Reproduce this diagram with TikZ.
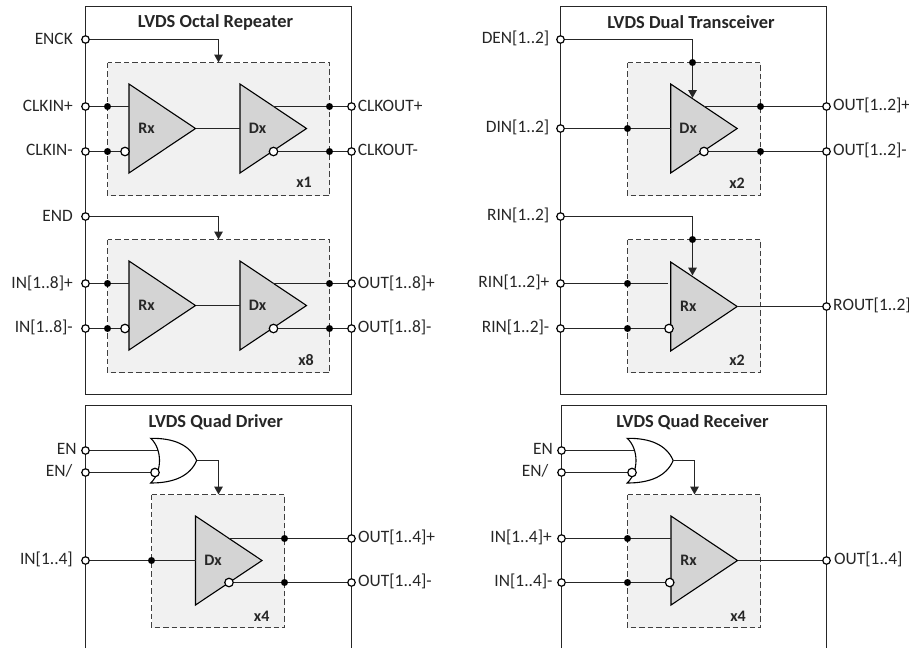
\documentclass[tikz,border=0pt]{standalone}
\usepackage{fontspec}
\setmainfont{Carlito}
\usetikzlibrary{arrows.meta}
\definecolor{boxfill}{HTML}{F1F1F1}
\definecolor{ampfill}{HTML}{D4D4D4}
\definecolor{wirecol}{HTML}{262626}
\tikzset{
  x=1pt,y=-1pt,
  every node/.style={font=\fontsize{17.4}{19}\selectfont,text=black!85},
  wire/.style={draw=wirecol,line width=1.4pt},
  arrowwire/.style={wire,-{Triangle[width=8.5pt,length=8pt]}},
  panel/.style={draw=wirecol,line width=1.4pt},
  block/.style={draw=black!75,fill=boxfill,line width=1.3pt,dash pattern=on 5.5pt off 3pt},
  amp/.style={draw=black,fill=ampfill,line width=1.1pt,line join=miter},
  pin/.style={circle,draw=black,fill=white,line width=1.2pt,inner sep=0pt,minimum size=7.5pt},
  dot/.style={circle,fill=black,inner sep=0pt,minimum size=7pt},
  bub/.style={circle,draw=black,fill=white,line width=1.2pt,inner sep=0pt,minimum size=8.5pt},
  lbl/.style={anchor=east,inner sep=0pt},
  lbr/.style={anchor=west,inner sep=0pt},
  ttl/.style={font=\fontsize{18.4}{20}\selectfont\bfseries},
  tag/.style={font=\fontsize{16}{18}\selectfont\bfseries},
  orgate/.style={draw=black,fill=white,line width=1.1pt}
}
% name, x-left, y-centre, text
\newcommand{\ampshape}[4]{%
  \path[amp] (#2,#3-44.5) coordinate (#1-a) -- (#2+66.5,#3) coordinate (#1-tip) -- (#2,#3+44.5) coordinate (#1-b) -- cycle;
  \node[font=\fontsize{16}{18}\selectfont\bfseries] (#1-t) at (#2+17.5,#3) {#4};
  \coordinate (#1-w) at (#2,#3);
  \coordinate (#1-up) at (#2,#3-22);
  \coordinate (#1-upr) at (#2+33,#3-22);
}
% name, x offset
\newcommand{\orshape}[2]{%
  \path[orgate] (#2+150.7,438.3) coordinate (#1-a) .. controls (#2+174,438) and (#2+190,445) .. (#2+196.7,460.5) coordinate (#1-tip) .. controls (#2+190,476) and (#2+174,483) .. (#2+150.7,483) coordinate (#1-b) .. controls (#2+157,477) and (#2+159.5,468) .. (#2+159.5,460.5) .. controls (#2+159.5,453) and (#2+157,444) .. (#2+150.7,438.3) -- cycle;
}
\begin{document}
\begin{tikzpicture}
\useasboundingbox (0,0) rectangle (909,648);

% ---------- panels
\draw[panel] (85.5,6.5) rectangle (351.5,394.5);
\draw[panel] (560.5,6.5) rectangle (826.5,394.5);
\draw[panel] (85.5,648) -- (85.5,405.5) -- (351.5,405.5) -- (351.5,648);
\draw[panel] (561.5,648) -- (561.5,405.5) -- (826.5,405.5) -- (826.5,648);

\node[ttl] (t1) at (215.5,22) {LVDS Octal Repeater};
\node[ttl] (t2) at (691,22) {LVDS Dual Transceiver};
\node[ttl] (t3) at (215.8,422.5) {LVDS Quad Driver};
\node[ttl] (t4) at (692.5,422.5) {LVDS Quad Receiver};

% ---------- dashed blocks
\path[block] (107.5,62.5) rectangle (329.5,195.5);
\path[block] (107.5,239.5) rectangle (329.5,372.5);
\path[block] (627.5,62.5) rectangle (760.5,195.5);
\path[block] (627.5,239.5) rectangle (760.5,372.5);
\path[block] (151.5,494.5) rectangle (284.5,627.5);
\path[block] (627.5,494.5) rectangle (760.5,627.5);

\node[tag] (x1) at (304,182.7) {x1};
\node[tag] (x8) at (306,360.5) {x8};
\node[tag] (x2a) at (737,183) {x2};
\node[tag] (x2b) at (737,360) {x2};
\node[tag] (x4a) at (261.7,616) {x4};
\node[tag] (x4b) at (738,616) {x4};

% ---------- pins and dots : octal repeater
\foreach \n/\y in {ENCK/39.5,CKP/106.5,CKM/151.5,END/216.5,INP/283.5,INM/328.5}
  \node[pin] (\n) at (85.5,\y) {};
\foreach \n/\y in {CKOP/106.5,CKOM/151.5,OTP/283.5,OTM/328.5}
  \node[pin] (\n) at (351.5,\y) {};
\foreach \n/\y in {jCKP/106.5,jCKM/151.5,jINP/283.5,jINM/328.5}
  \node[dot] (\n) at (107.5,\y) {};
\foreach \n/\y in {jCKOP/106.5,jCKOM/151.5,jOTP/283.5,jOTM/328.5}
  \node[dot] (\n) at (329.5,\y) {};

% octal repeater amplifiers
\ampshape{r1}{129}{128.5}{Rx}
\ampshape{d1}{240}{128.5}{Dx}
\ampshape{r2}{129}{305.5}{Rx}
\ampshape{d2}{240}{305.5}{Dx}
\node[bub] (br1) at (125,151.5) {};
\node[bub] (bd1) at (273.5,151.5) {};
\node[bub] (br2) at (125,328.5) {};
\node[bub] (bd2) at (273.5,328.5) {};

\coordinate (a1) at (218.5,62.5);
\coordinate (a2) at (218.5,239.5);
\draw[arrowwire] (ENCK) -| (a1);
\draw[arrowwire] (END) -| (a2);
\draw[wire] (CKP) -- (jCKP) -- (r1-up);
\draw[wire] (CKM) -- (jCKM) -- (br1);
\draw[wire] (r1-tip) -- (d1-w);
\draw[wire] (d1-upr) -- (jCKOP) -- (CKOP);
\draw[wire] (bd1) -- (jCKOM) -- (CKOM);
\draw[wire] (INP) -- (jINP) -- (r2-up);
\draw[wire] (INM) -- (jINM) -- (br2);
\draw[wire] (r2-tip) -- (d2-w);
\draw[wire] (d2-upr) -- (jOTP) -- (OTP);
\draw[wire] (bd2) -- (jOTM) -- (OTM);

\node[lbl] (l1) at (73,38.7) {ENCK};
\node[lbl] (l2) at (73,105.5) {CLKIN+};
\node[lbl] (l3) at (73,150) {CLKIN-};
\node[lbl] (l4) at (73,216) {END};
\node[lbl] (l5) at (73,283) {IN[1..8]+};
\node[lbl] (l6) at (73,327.5) {IN[1..8]-};
\node[lbr] (r1l) at (357.7,105.5) {CLKOUT+};
\node[lbr] (r2l) at (357.7,150) {CLKOUT-};
\node[lbr] (r3l) at (357.7,283) {OUT[1..8]+};
\node[lbr] (r4l) at (357.7,327.5) {OUT[1..8]-};

% ---------- dual transceiver
\foreach \n/\y in {DEN/39.5,DIN/128.5,RIN/216.5,RIP/283.5,RIM/328.5}
  \node[pin] (\n) at (560.5,\y) {};
\foreach \n/\y in {OUP/106.5,OUM/151.5,ROUT/306.5}
  \node[pin] (\n) at (826.5,\y) {};
\foreach \n/\y in {jDIN/128.5,jRIP/283.5,jRIM/328.5}
  \node[dot] (\n) at (627.5,\y) {};
\foreach \n/\y in {jOUP/106.5,jOUM/151.5}
  \node[dot] (\n) at (760.5,\y) {};
\node[dot] (jDEN) at (692.5,62.5) {};
\node[dot] (jRIN) at (692.5,239.5) {};
\ampshape{d3}{670.7}{128.5}{Dx}
\ampshape{r3}{670.7}{306.5}{Rx}
\node[bub] (bd3) at (704,151.5) {};
\node[bub] (br3) at (669,328.5) {};
\coordinate (e3) at (692.5,98);
\coordinate (e4) at (692.5,275.5);
\coordinate (s3) at (668,283.5);
\draw[wire] (DEN) -| (jDEN);
\draw[arrowwire] (jDEN) -- (e3);
\draw[wire] (RIN) -| (jRIN);
\draw[arrowwire] (jRIN) -- (e4);
\draw[wire] (DIN) -- (jDIN) -- (d3-w);
\draw[wire] (d3-upr) -- (jOUP) -- (OUP);
\draw[wire] (bd3) -- (jOUM) -- (OUM);
\draw[wire] (RIP) -- (jRIP) -- (s3);
\draw[wire] (RIM) -- (jRIM) -- (br3);
\draw[wire] (r3-tip) -- (ROUT);

\node[lbl] (l7) at (549.5,38) {DEN[1..2]};
\node[lbl] (l8) at (549.5,127.5) {DIN[1..2]};
\node[lbl] (l9) at (549.5,215.5) {RIN[1..2]};
\node[lbl] (l10) at (549.5,282.5) {RIN[1..2]+};
\node[lbl] (l11) at (549.5,327) {RIN[1..2]-};
\node[lbr] (r5l) at (833,105) {OUT[1..2]+};
\node[lbr] (r6l) at (833,150) {OUT[1..2]-};
\node[lbr] (r7l) at (833,305) {ROUT[1..2]};

% ---------- quad driver
\foreach \n/\y in {ENa/450.5,ENb/472.5,INa/560.5}
  \node[pin] (\n) at (85.5,\y) {};
\foreach \n/\y in {OQP/538.5,OQM/582.5}
  \node[pin] (\n) at (351.5,\y) {};
\node[dot] (jINa) at (151.5,560.5) {};
\node[dot] (jOQP) at (284.5,538.5) {};
\node[dot] (jOQM) at (284.5,582.5) {};
\coordinate (gA) at (158,450.5);
\draw[wire] (ENa) -- (gA);
\orshape{g1}{0}
\node[bub] (bg1) at (155,472.5) {};
\draw[wire] (ENb) -- (bg1);
\coordinate (a3) at (218.5,494.5);
\draw[arrowwire] (g1-tip) -| (a3);
\ampshape{d4}{195.5}{560.5}{Dx}
\node[bub] (bd4) at (229,582.5) {};
\draw[wire] (INa) -- (jINa) -- (d4-w);
\draw[wire] (d4-upr) -- (jOQP) -- (OQP);
\draw[wire] (bd4) -- (jOQM) -- (OQM);

\node[lbl] (l12) at (76.7,449) {EN};
\node[lbl] (l13) at (72.5,471) {EN/};
\node[lbl] (l14) at (73,559.7) {IN[1..4]};
\node[lbr] (r8l) at (358,537) {OUT[1..4]+};
\node[lbr] (r9l) at (358,581.7) {OUT[1..4]-};

% ---------- quad receiver
\foreach \n/\y in {ENc/450.5,ENd/472.5,IRP/538.5,IRM/582.5}
  \node[pin] (\n) at (561.5,\y) {};
\node[pin] (OUq) at (826.5,560.5) {};
\node[dot] (jIRP) at (627.5,538.5) {};
\node[dot] (jIRM) at (627.5,582.5) {};
\coordinate (gB) at (634,450.5);
\draw[wire] (ENc) -- (gB);
\orshape{g2}{476.5}
\node[bub] (bg2) at (632,472.5) {};
\draw[wire] (ENd) -- (bg2);
\coordinate (a4) at (694.5,494.5);
\draw[arrowwire] (g2-tip) -| (a4);
\ampshape{r4}{671}{560.5}{Rx}
\node[bub] (br4) at (669.7,582.5) {};
\coordinate (s4) at (671,538.5);
\draw[wire] (IRP) -- (jIRP) -- (s4);
\draw[wire] (IRM) -- (jIRM) -- (br4);
\draw[wire] (r4-tip) -- (OUq);

\node[lbl] (l15) at (553,449) {EN};
\node[lbl] (l16) at (548.5,471) {EN/};
\node[lbl] (l17) at (552,537) {IN[1..4]+};
\node[lbl] (l18) at (552.7,581.7) {IN[1..4]-};
\node[lbr] (r10l) at (834,559.7) {OUT[1..4]};
\end{tikzpicture}
\end{document}
